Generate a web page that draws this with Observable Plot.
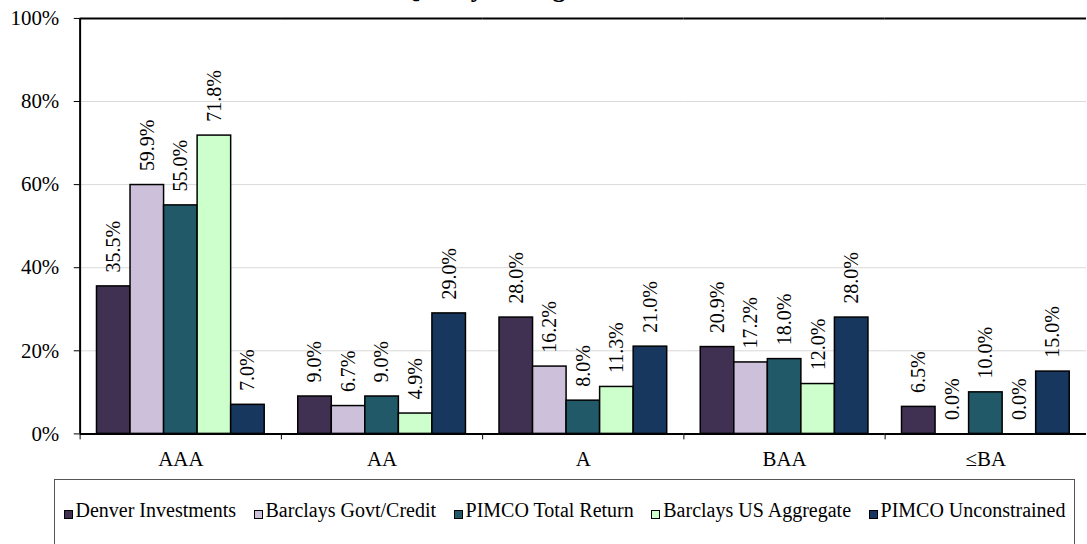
<!DOCTYPE html>
<html><head><meta charset="utf-8">
<script src="https://cdn.jsdelivr.net/npm/d3@7"></script>
<script src="https://cdn.jsdelivr.net/npm/@observablehq/plot@0.6"></script>
<style>
html,body{margin:0;padding:0;overflow:hidden;background:#fff;}
body{font-family:'Liberation Serif',serif;width:1087px;height:544px;position:relative;}
#chart{position:absolute;left:0;top:0;}
#title{position:absolute;top:-24px;left:400px;font-family:'Liberation Serif',serif;font-weight:bold;font-size:26px;line-height:26px;white-space:nowrap;}
#legend{position:absolute;left:54px;top:479px;width:1021px;height:70px;border:1px solid #555;box-sizing:border-box;display:flex;justify-content:center;align-items:baseline;padding-top:20px;font-family:'Liberation Serif',serif;font-size:20px;line-height:20px;gap:17.5px;}
.item{display:flex;align-items:baseline;white-space:nowrap;}
.sw{display:inline-block;width:7px;height:7px;border:1.5px solid #000;margin-right:3px;position:relative;top:2px;}
</style>
</head><body>
<div id="chart"></div>
<div id="title">Quality Ratings</div>
<div id="legend"></div>
<script>
const ratings = ["AAA", "AA", "A", "BAA", "≤BA"];
const series = ["Denver Investments", "Barclays Govt/Credit", "PIMCO Total Return", "Barclays US Aggregate", "PIMCO Unconstrained"];
const colors = ["#403152", "#ccc0da", "#215968", "#ccffcc", "#17375e"];
const denver = [35.5, 9.0, 28.0, 20.9, 6.5];
const barclaysGovt = [59.9, 6.7, 16.2, 17.2, 0.0];
const pimcoTR = [55.0, 9.0, 8.0, 18.0, 10.0];
const barclaysAgg = [71.8, 4.9, 11.3, 12.0, 0.0];
const pimcoUnc = [7.0, 29.0, 21.0, 28.0, 15.0];
const yTicks = [0, 20, 40, 60, 80, 100];
const gridTicks = [20, 40, 60, 80];

const valuesBySeries = [denver, barclaysGovt, pimcoTR, barclaysAgg, pimcoUnc];
const rows = [];
ratings.forEach((r, i) => series.forEach((s, j) => rows.push({rating: r, series: s, value: valuesBySeries[j][i]})));

const FONT = "'Liberation Serif', serif";
const W = 1091, ML = 78, MT = 18, MB = 44, H = 479;
const PO = 0.5;
const facetW = (W - ML) / ratings.length;
const step = facetW / (series.length + 2 * PO);

const chart = Plot.plot({
  width: W, height: H,
  marginLeft: ML, marginRight: 0, marginTop: MT, marginBottom: MB,
  style: {fontFamily: FONT, fontSize: "21px", color: "black", background: "white"},
  fx: {domain: ratings, padding: 0, label: null, axis: "bottom", tickSize: 0, tickPadding: 17},
  x: {domain: series, paddingInner: 0, paddingOuter: PO, round: false, axis: null},
  y: {domain: [0, 100], axis: null},
  color: {domain: series, range: colors},
  marks: [
    Plot.gridY(gridTicks, {stroke: "#d9d9d9", strokeOpacity: 1, strokeWidth: 1}),
    Plot.barY(rows, {fx: "rating", x: "series", y: "value", fill: "series", stroke: "black", strokeWidth: 1.5}),
    Plot.text(rows, {fx: "rating", x: "series", y: "value", text: d => d.value.toFixed(1) + "%", rotate: -90, textAnchor: "start", lineAnchor: "middle", dy: -14, fontSize: 20, fontFamily: FONT, fill: "black"}),
    Plot.ruleY([0, 100], {stroke: "black", strokeWidth: 2}),
    Plot.ruleX(ratings, {fx: d => d, x: () => series[0], dx: -step, insetTop: H - MT - MB, insetBottom: -6, stroke: "black", strokeWidth: 1}),
    Plot.ruleX(ratings.slice(0, 1), {fx: d => d, x: () => series[0], dx: -step, stroke: "black", strokeWidth: 2}),
    Plot.axisY(yTicks, {anchor: "left", tickFormat: d => d + "%", tickSize: 6, tickPadding: 15, fontSize: 21, fontFamily: FONT, label: null})
  ]
});
chart.style.fontFamily = FONT;
document.getElementById("chart").appendChild(chart);

const legend = document.getElementById("legend");
series.forEach((s, i) => {
  const item = document.createElement("div");
  item.className = "item";
  const sw = document.createElement("span");
  sw.className = "sw";
  sw.style.background = colors[i];
  item.appendChild(sw);
  item.appendChild(document.createTextNode(s));
  legend.appendChild(item);
});
</script>
</body></html>
